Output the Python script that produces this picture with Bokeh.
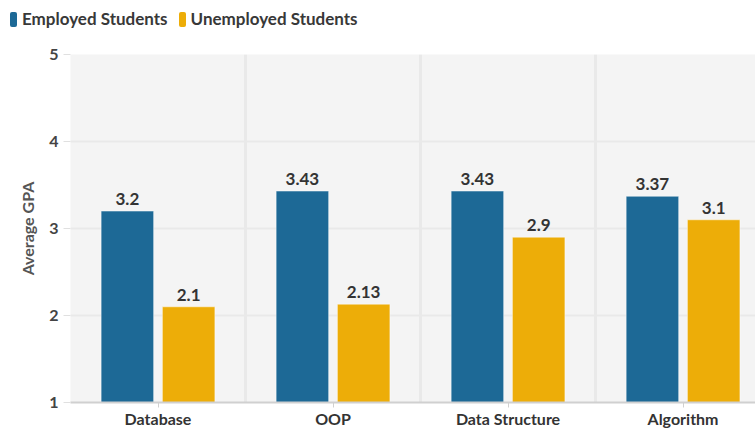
from bokeh.plotting import figure
from bokeh.models import (ColumnDataSource, Range1d, FixedTicker, Div)
from bokeh.layouts import column
from bokeh.core.properties import value
from bokeh.embed import file_html
from bokeh.resources import INLINE

categories = ["Database", "OOP", "Data Structure", "Algorithm"]
employed = [3.2, 3.43, 3.43, 3.37]
unemployed = [2.1, 2.13, 2.9, 3.1]
series_names = ["Employed Students", "Unemployed Students"]
y_ticks = [1, 2, 3, 4, 5]

BLUE = "#1D6996"
YELLOW = "#EDAD08"
FONT = "Lato"

centers = [i + 0.5 for i in range(len(categories))]
offset = 0.175
bar_w = 0.3

src_e = ColumnDataSource(dict(x=[c - offset for c in centers], top=employed,
                              lab=[str(v) for v in employed]))
src_u = ColumnDataSource(dict(x=[c + offset for c in centers], top=unemployed,
                              lab=[str(v) for v in unemployed]))

LEG_H = 34
p = figure(width=755, height=430 - LEG_H, output_backend="svg",
           toolbar_location=None,
           x_range=Range1d(0, 3.914), y_range=Range1d(1, 5),
           min_border_left=70, min_border_right=0, min_border_top=54 - LEG_H,
           min_border_bottom=26)
p.background_fill_color = "#f4f4f4"
p.border_fill_color = "white"
p.outline_line_color = None

r_e = p.vbar(x="x", top="top", bottom=1, width=bar_w, source=src_e,
             fill_color=BLUE, line_color="white", line_alpha=0.45, line_width=1)
r_u = p.vbar(x="x", top="top", bottom=1, width=bar_w, source=src_u,
             fill_color=YELLOW, line_color="white", line_alpha=0.45, line_width=1)

for src in (src_e, src_u):
    p.text(x="x", y="top", text="lab", source=src, text_align="center",
           text_baseline="bottom", y_offset=-6, text_font=value(FONT),
           text_font_style="bold", text_font_size="17px", text_color="#333333")

# axes
p.xaxis.ticker = FixedTicker(ticks=centers)
p.xaxis.major_label_overrides = {c: name for c, name in zip(centers, categories)}
p.xaxis.major_label_text_font = FONT
p.xaxis.major_label_text_font_style = "bold"
p.xaxis.major_label_text_font_size = "16px"
p.xaxis.major_label_text_color = "#333333"
p.xaxis.axis_line_color = "#d0d0d0"
p.xaxis.axis_line_width = 2
p.xaxis.major_tick_line_color = "#d0d0d0"
p.xaxis.major_tick_in = 0
p.xaxis.major_tick_out = 5
p.xaxis.minor_tick_line_color = None
p.xaxis.major_label_standoff = 1

p.yaxis.ticker = FixedTicker(ticks=y_ticks)
p.yaxis.axis_label = "Average GPA"
p.yaxis.axis_label_text_font = FONT
p.yaxis.axis_label_text_font_style = "bold"
p.yaxis.axis_label_text_font_size = "16px"
p.yaxis.axis_label_text_color = "#555555"
p.yaxis.axis_label_standoff = 9
p.yaxis.major_label_text_font = FONT
p.yaxis.major_label_text_font_style = "bold"
p.yaxis.major_label_text_font_size = "16px"
p.yaxis.major_label_text_color = "#444444"
p.yaxis.axis_line_color = None
p.yaxis.major_tick_line_color = "#e0e0e0"
p.yaxis.major_tick_in = 0
p.yaxis.major_tick_out = 7
p.yaxis.minor_tick_line_color = None
p.yaxis.major_label_standoff = 5

p.xgrid.ticker = FixedTicker(ticks=[float(i) for i in range(len(categories) + 1)])
p.xgrid.grid_line_color = "#e9e9e9"
p.xgrid.grid_line_width = 3
p.ygrid.ticker = FixedTicker(ticks=y_ticks)
p.ygrid.grid_line_color = "#e9e9e9"
p.ygrid.grid_line_width = 2

swatch = ('<span style="display:inline-block;width:7px;height:15px;'
          'background:{c};border-radius:2px;vertical-align:-2px;'
          'margin-right:5px"></span>')
items = "".join(
    swatch.format(c=c) + f'<span style="margin-right:11px">{n}</span>'
    for c, n in zip([BLUE, YELLOW], series_names))
legend_html = (f'<div style="font-family:Lato;font-weight:bold;font-size:17px;'
               f'color:#383838;line-height:20px;padding:9px 0 0 10px;'
               f'white-space:nowrap">{items}</div>')
legend_div = Div(text=legend_html, width=755, height=LEG_H, margin=0)

layout = column(legend_div, p, spacing=0)
open("out.html", "w").write(file_html(layout, INLINE))
